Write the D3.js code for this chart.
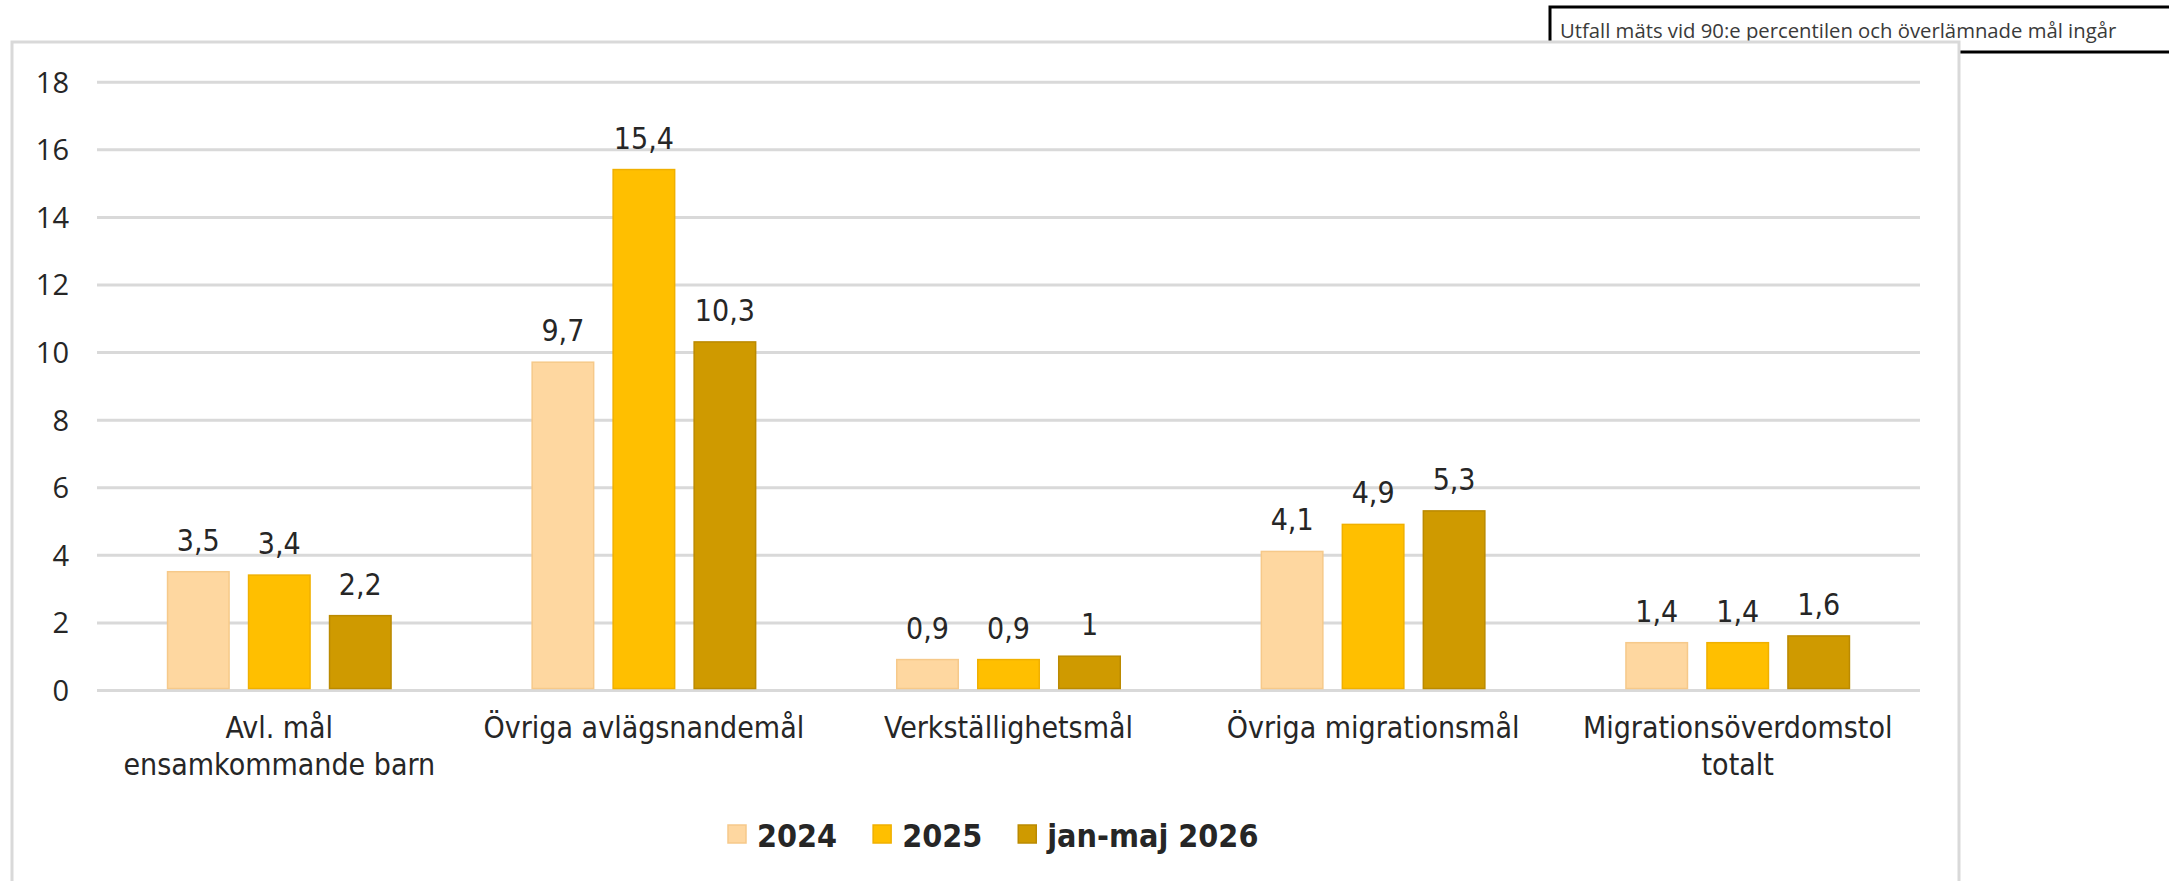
<!DOCTYPE html>
<html>
<head>
<meta charset="utf-8">
<script src="https://cdn.jsdelivr.net/npm/d3@7"></script>
<style>
  html, body { margin: 0; padding: 0; background: #fff; overflow: hidden; }
  .cat, .val, .leg { font-family: "DejaVu Sans Condensed", "DejaVu Sans", sans-serif; fill: #262626; }
  .yaxis text { font-family: "Open Sans", sans-serif; font-size: 29px; fill: #262626; }
  .yaxis path, .yaxis line { display: none; }
  .grid line { stroke: #d9d9d9; stroke-width: 3; }
  .grid path { display: none; }
</style>
</head>
<body>
<svg id="chart" width="2169" height="881"></svg>
<script>
// data
const categories = ["Avl. mål\nensamkommande barn", "Övriga avlägsnandemål", "Verkställighetsmål", "Övriga migrationsmål", "Migrationsöverdomstol\ntotalt"];
const seriesNames = ["2024", "2025", "jan-maj 2026"];
const values2024 = [3.5, 9.7, 0.9, 4.1, 1.4];
const values2025 = [3.4, 15.4, 0.9, 4.9, 1.4];
const valuesJanMaj2026 = [2.2, 10.3, 1, 5.3, 1.6];
const yTicks = [0, 2, 4, 6, 8, 10, 12, 14, 16, 18];
const noteText = "Utfall mäts vid 90:e percentilen och överlämnade mål ingår";

const colors = ["#fed7a0", "#ffbf00", "#cf9a00"];
const strokes = ["#f6c98a", "#f0b000", "#bb8a00"];

const svg = d3.select("#chart");

// note box in the corner, partly hidden by the chart frame
svg.append("rect")
    .attr("x", 1550).attr("y", 7)
    .attr("width", 700).attr("height", 45)
    .attr("fill", "#fff").attr("stroke", "#000").attr("stroke-width", 3);
svg.append("text")
    .attr("x", 1560).attr("y", 38)
    .attr("font-family", "Open Sans, sans-serif")
    .attr("font-size", "20.3px")
    .attr("fill", "#3a3a3a")
    .text(noteText);

// chart frame
svg.append("rect")
    .attr("x", 12).attr("y", 42)
    .attr("width", 1947).attr("height", 900)
    .attr("fill", "#fff").attr("stroke", "#d9d9d9").attr("stroke-width", 3);

const plotLeft = 97, plotRight = 1920, plotTop = 81.7, plotBottom = 690;

const y = d3.scaleLinear().domain([0, 18]).range([plotBottom, plotTop]);
const x0 = d3.scaleBand().domain(categories).range([plotLeft, plotRight]).padding(0);
const groupW = 225;
const x1 = d3.scaleBand().domain(seriesNames)
    .range([(x0.bandwidth() - groupW) / 2, (x0.bandwidth() + groupW) / 2])
    .paddingInner(0.222).paddingOuter(0);

// gridlines
svg.append("g")
    .attr("class", "grid")
    .attr("transform", "translate(" + plotLeft + ",0)")
    .call(d3.axisLeft(y).tickValues(yTicks).tickSize(-(plotRight - plotLeft)).tickFormat(""));

// y axis labels
svg.append("g")
    .attr("class", "yaxis")
    .attr("transform", "translate(" + plotLeft + ",0)")
    .call(d3.axisLeft(y).tickValues(yTicks).tickSize(0).tickPadding(28))
    .selectAll("text").attr("dy", "0.36em");

const sv = d3.formatLocale({decimal: ",", thousands: " ", grouping: [3], currency: ["", " kr"]}).format(".1~f");

const rows = categories.map((c, i) => ({
    cat: c,
    vals: [values2024[i], values2025[i], valuesJanMaj2026[i]]
}));

const groups = svg.selectAll("g.cat-group")
    .data(rows)
    .enter()
    .append("g")
    .attr("class", "cat-group")
    .attr("transform", d => "translate(" + x0(d.cat) + ",0)");

groups.selectAll("rect")
    .data(d => d.vals.map((v, j) => ({s: seriesNames[j], v: v, j: j})))
    .enter()
    .append("rect")
    .attr("x", d => x1(d.s) + 0.75)
    .attr("y", d => y(d.v))
    .attr("width", x1.bandwidth() - 1.5)
    .attr("height", d => y(0) - y(d.v) - 1.5)
    .attr("fill", d => colors[d.j])
    .attr("stroke", d => strokes[d.j])
    .attr("stroke-width", 1.5);

groups.selectAll("text.val")
    .data(d => d.vals.map((v, j) => ({s: seriesNames[j], v: v})))
    .enter()
    .append("text")
    .attr("class", "val")
    .attr("x", d => x1(d.s) + x1.bandwidth() / 2)
    .attr("y", d => y(d.v) - 21)
    .attr("text-anchor", "middle")
    .attr("font-size", "30px")
    .text(d => sv(d.v));

// category labels
const catText = svg.selectAll("text.cat")
    .data(categories)
    .enter()
    .append("text")
    .attr("class", "cat")
    .attr("text-anchor", "middle")
    .attr("font-size", "30px")
    .attr("x", d => x0(d) + x0.bandwidth() / 2)
    .attr("y", 738);
catText.selectAll("tspan")
    .data(d => d.split("\n"))
    .enter()
    .append("tspan")
    .attr("x", function() { return d3.select(this.parentNode).attr("x"); })
    .attr("dy", (d, i) => i === 0 ? 0 : 37)
    .text(d => d);

// legend
const legend = svg.append("g").attr("transform", "translate(728,0)");
let lx = 0;
seriesNames.forEach((s, i) => {
    legend.append("rect")
        .attr("x", lx).attr("y", 825)
        .attr("width", 18).attr("height", 18)
        .attr("fill", colors[i]).attr("stroke", strokes[i]).attr("stroke-width", 1.5);
    const t = legend.append("text")
        .attr("class", "leg")
        .attr("x", lx + 29).attr("y", 847)
        .attr("font-size", "32px")
        .attr("font-weight", "bold")
        .text(s);
    lx += 29 + t.node().getComputedTextLength() + 36;
});
</script>
</body>
</html>
